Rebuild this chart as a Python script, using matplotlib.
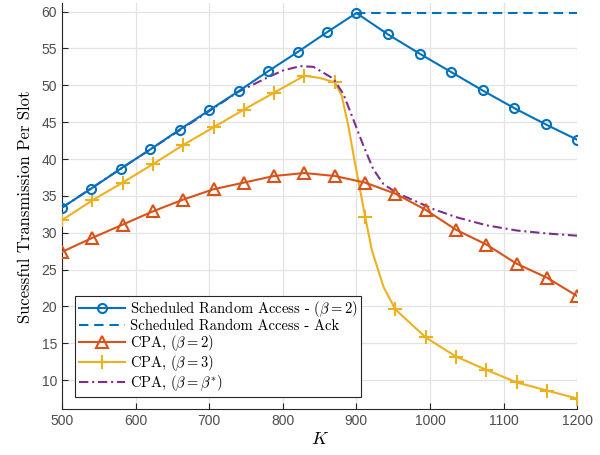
import numpy as np
import matplotlib
matplotlib.use("Agg")
import matplotlib.pyplot as plt

plt.rcParams['mathtext.fontset'] = 'cm'
plt.rcParams['font.family'] = ['Liberation Sans', 'DejaVu Sans']

# values
K_sra = [500, 540, 580, 620, 660, 700, 740, 780, 820, 860, 900,
         942.9, 985.7, 1028.6, 1071.4, 1114.3, 1157.1, 1200]
sra = [33.4, 36.0, 38.7, 41.3, 44.0, 46.6, 49.2, 51.9, 54.5, 57.2, 59.8,
       56.9, 54.3, 51.8, 49.3, 46.9, 44.7, 42.6]

K_ack = [900, 1200]
ack = [59.8, 59.8]

K_cpa = [500, 541.2, 582.4, 623.5, 664.7, 705.9, 747.1, 788.2, 829.4, 870.6,
         911.8, 952.9, 994.1, 1035.3, 1076.5, 1117.6, 1158.8, 1200]
cpa2 = [27.4, 29.3, 31.1, 32.9, 34.5, 35.9, 36.8, 37.7, 38.1, 37.7,
        36.8, 35.3, 33.1, 30.4, 28.4, 25.8, 23.9, 21.4]
cpa3 = [31.7, 34.4, 36.8, 39.3, 41.9, 44.3, 46.7, 49.0, 51.3, 50.4,
        32.2, 19.6, 15.8, 13.2, 11.4, 9.7, 8.6, 7.5]
# extra points on the beta=3 curve around the sharp drop
K_cpa3_mid = [850, 880, 889, 897, 904, 921, 937]
cpa3_mid = [51.0, 48.6, 44.5, 40.0, 36.3, 27.6, 22.6]

K_opt = [500, 600, 700, 737.5, 778, 800, 823.5, 841.6, 868.7, 882.3, 896,
         909.5, 923, 936.7, 954.8, 977.4, 1004.6, 1036, 1077, 1118, 1158.6, 1200]
opt = [33.4, 40.0, 46.5, 49.0, 51.0, 52.0, 52.6, 52.5, 50.9, 48.8, 45.3,
       41.8, 38.6, 36.6, 35.4, 34.4, 33.2, 32.1, 31.0, 30.3, 29.9, 29.6]

labels = [r'Scheduled Random Access - $(\beta=2)$',
          'Scheduled Random Access - Ack',
          r'CPA, $(\beta=2)$',
          r'CPA, $(\beta=3)$',
          r'CPA, $(\beta=\beta^{*})$']
colors = ['#0072BD', '#0072BD', '#D95319', '#EDB120', '#7E2F8E']

# merge the beta=3 grid with the extra points, markers only on the grid
K3 = np.array(K_cpa + K_cpa3_mid)
v3 = np.array(cpa3 + cpa3_mid)
order = np.argsort(K3)
K3, v3 = K3[order], v3[order]
mark3 = [i for i, k in enumerate(K3) if k in K_cpa]

fig = plt.figure(figsize=(6, 4.55), dpi=100)
ax = fig.add_axes([0.1032, 0.1004, 0.8590, 0.8920])

lw = 1.5
ax.plot(K_sra, sra, color=colors[0], lw=lw, marker='o', ms=6.5,
        mfc='none', mew=1.5, label=labels[0], zorder=5)
ax.plot(K_ack, ack, color=colors[1], lw=lw, dashes=[4.5, 2.8],
        label=labels[1], zorder=4)
ax.plot(K_cpa, cpa2, color=colors[2], lw=lw, marker='^', ms=8.5,
        mfc='none', mew=1.5, label=labels[2], zorder=4)
ax.plot(K3, v3, color=colors[3], lw=lw, marker='+', ms=10, mew=1.5,
        markevery=mark3, label=labels[3], zorder=3)
ax.plot(K_opt, opt, color=colors[4], lw=lw, dashes=[4.5, 1.8, 1, 1.8],
        label=labels[4], zorder=3)

ax.set_xlim(500, 1200)
ax.set_ylim(6.05, 61.1)
ax.set_xticks(np.arange(500, 1201, 100))
ax.set_yticks(np.arange(10, 61, 5))
ax.grid(True, color='#e3e3e3', lw=0.9)
ax.set_axisbelow(True)
for s in ['top', 'right']:
    ax.spines[s].set_visible(False)
for s in ['left', 'bottom']:
    ax.spines[s].set_color('#262626')
    ax.spines[s].set_linewidth(0.8)
ax.tick_params(direction='in', length=4, width=0.8, colors='#262626',
               labelsize=10, labelcolor='#4d4d4d')

ax.set_xlabel(r'$K$', fontsize=13, labelpad=2)
ax.set_ylabel('Sucessful Transmission Per Slot', family='cmr10',
              fontsize=12, labelpad=6)

leg = ax.legend(loc='lower left', bbox_to_anchor=(0.0254, 0.031),
                borderaxespad=0, prop={'family': 'cmr10', 'size': 10.5},
                handlelength=3.2, labelspacing=0.0, handletextpad=0.3,
                borderpad=0.25, fancybox=False, framealpha=1)
leg.get_frame().set_edgecolor('#262626')
leg.get_frame().set_linewidth(0.8)

fig.savefig('out.png', dpi=100)
